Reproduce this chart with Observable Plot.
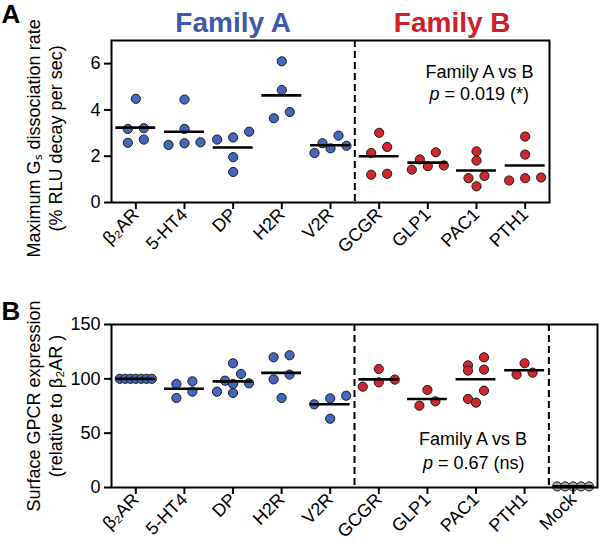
<!DOCTYPE html>
<html>
<head>
<meta charset="utf-8">
<script src="https://cdn.jsdelivr.net/npm/d3@7"></script>
<script src="https://cdn.jsdelivr.net/npm/@observablehq/plot@0.6"></script>
<style>
  body { margin: 0; background: #fff; }
  svg { display: block; }
</style>
</head>
<body>
<div id="chart"></div>
<script>
// ---------------- data ----------------
const receptorsA = ["β₂AR", "5-HT4", "DP", "H2R", "V2R", "GCGR", "GLP1", "PAC1", "PTH1"];
const receptorsB = ["β₂AR", "5-HT4", "DP", "H2R", "V2R", "GCGR", "GLP1", "PAC1", "PTH1", "Mock"];
const familyNames = ["Family A", "Family B"];
const familyA = ["β₂AR", "5-HT4", "DP", "H2R", "V2R"];
const familyB = ["GCGR", "GLP1", "PAC1", "PTH1"];

// Panel A: maximum Gs dissociation rate (% RLU decay per sec)
const rateValues = [
  [4.48, 3.21, 3.18, 2.72, 2.58],   // β2AR
  [4.45, 3.18, 2.60, 2.56, 2.49],   // 5-HT4
  [3.06, 2.81, 2.72, 1.96, 1.32],   // DP
  [6.10, 4.86, 3.91, 3.64],         // H2R
  [2.89, 2.56, 2.45, 2.34, 2.14],   // V2R
  [3.01, 2.40, 2.14, 1.24, 1.20],   // GCGR
  [2.17, 1.86, 1.60, 1.57, 1.42],   // GLP1
  [2.21, 1.81, 1.15, 1.05, 0.70],   // PAC1
  [2.85, 2.07, 1.08, 1.05, 0.95]    // PTH1
];
// Panel B: surface GPCR expression (relative to β2AR)
const exprValues = [
  [100, 100, 100, 100, 100, 100, 100],              // β2AR
  [97.7, 95.3, 88.2, 82.4],                         // 5-HT4
  [114.3, 104.5, 98.3, 95.9, 95.3, 88.2, 87.0],     // DP
  [121.7, 119.8, 103.9, 99.5, 82.4],                // H2R
  [84.5, 82.0, 76.5, 63.3],                         // V2R
  [109.1, 99.3, 96.8, 92.8],                        // GCGR
  [89.8, 79.3, 75.3],                               // GLP1
  [119.8, 112.4, 108.5, 107.6, 89.1, 81.5, 78.1],   // PAC1
  [114.3, 105.7, 103.9],                            // PTH1
  [1, 1, 1, 1, 1]                                   // Mock
];
const rateTicks = [0, 2, 4, 6];
const exprTicks = [0, 50, 100, 150];
const statsA = ["Family A vs B", "p", "= 0.019 (*)"];
const statsB = ["Family A vs B", "p", "= 0.67 (ns)"];
const titleA = "Maximum Gₛ dissociation rate\n(% RLU decay per sec)";
const titleB = "Surface GPCR expression\n(relative to β₂AR )";

// ---------------- styling ----------------
const FONT = "'Liberation Sans', Arial, Helvetica, sans-serif";
const BLUE = "#4467be", RED = "#d0262c", GRAY = "#a3a3a3";
const BLUE_T = "#3b59a8", RED_T = "#cc2129";
const colorOf = (name) => familyA.includes(name) ? BLUE : familyB.includes(name) ? RED : GRAY;

// simple row-binned scatter layout (GraphPad style)
function swarm(names, groups, pxPerUnit, stepPx) {
  const out = [];
  groups.forEach((vals, i) => {
    const sorted = vals.map(v => ({v})).sort((a, b) => b.v - a.v);
    const rows = [];
    for (const p of sorted) {
      const row = rows[rows.length - 1];
      if (row && (row[0].v - p.v) * pxPerUnit < 9) row.push(p); else rows.push([p]);
    }
    for (const row of rows) {
      row.sort((a, b) => a.v - b.v);
      const n = row.length;
      const sp = n > 1 ? Math.min(16, 32 / (n - 1)) : 0;
      row.forEach((p, k) => out.push({i, name: names[i], v: p.v, x: i + (k - (n - 1) / 2) * sp / stepPx}));
    }
  });
  return out;
}
const meansOf = (names, groups) => groups.map((vals, i) => ({i, name: names[i], m: d3.mean(vals)}));

function panel({names, groups, yDomain, ticks, height, marginTop, marginBottom, marginRight, dashes, stats, statsY, statsDx, title, titleY, letter, letterDy, families}) {
  const width = 600, marginLeft = 111;
  const stepPx = (width - marginLeft - marginRight) / names.length;
  const pxPerUnit = (height - marginTop - marginBottom) / (yDomain[1] - yDomain[0]);
  const dots = swarm(names, groups, pxPerUnit, stepPx);
  const means = meansOf(names, groups);
  const marks = [
    Plot.ruleX(dashes, {stroke: "black", strokeWidth: 2, strokeDasharray: "7,4"}),
    Plot.dot(dots, {x: "x", y: "v", r: 4.6, fill: d => colorOf(d.name), stroke: "#1c1c1c", strokeWidth: 1}),
    Plot.ruleY(means, {y: "m", x1: d => d.i - 0.41, x2: d => d.i + 0.41, stroke: "black", strokeWidth: 2.6}),
    Plot.frame({stroke: "black", strokeWidth: 2}),
    Plot.axisY({ticks, tickFormat: d => String(d), tickSize: 7, tickPadding: 4, strokeWidth: 2, fontSize: 18, label: null}),
    Plot.axisX({ticks: d3.range(names.length), tickFormat: i => names[i], tickRotate: -45, tickSize: 7, tickPadding: 2, strokeWidth: 2, fontSize: 18, label: null}),
    // stats annotation
    Plot.text([stats[0]], {x: () => 7, y: () => statsY[0], dx: statsDx, text: d => d, fontSize: 18, lineAnchor: "bottom", textAnchor: "middle"}),
    Plot.text([stats[1]], {x: () => 7, y: () => statsY[1], dx: statsDx - 40, text: d => d, fontSize: 18, fontStyle: "italic", lineAnchor: "bottom", textAnchor: "end"}),
    Plot.text([stats[2]], {x: () => 7, y: () => statsY[1], dx: statsDx - 35, text: d => d, fontSize: 18, lineAnchor: "bottom", textAnchor: "start"}),
    // y title
    Plot.text([title], {frameAnchor: "left", y: titleY == null ? undefined : () => titleY, dx: -68, rotate: -90, text: d => d, fontSize: 18, lineHeight: 1.22, lineAnchor: "middle", textAnchor: "middle"}),
    // panel letter
    Plot.text([letter], {frameAnchor: "top-left", dx: -110, dy: letterDy, text: d => d, fontSize: 26, fontWeight: "bold", textAnchor: "start", lineAnchor: "bottom"})
  ];
  if (families) {
    const groupsF = [familyA, familyB];
    marks.push(Plot.text(familyNames, {
      x: (d, k) => d3.mean(groupsF[k], n => names.indexOf(n)),
      frameAnchor: "top", dy: -9, text: d => d, fontSize: 28, fontWeight: "bold",
      fill: (d, k) => k === 0 ? BLUE_T : RED_T, lineAnchor: "bottom"
    }));
  }
  return Plot.plot({
    width, height, marginTop, marginBottom, marginLeft, marginRight,
    style: {fontFamily: FONT, fontSize: "18px", color: "black", background: "white", overflow: "visible"},
    x: {domain: [-0.5, names.length - 0.5]},
    y: {domain: yDomain},
    marks
  });
}

const chart = document.getElementById("chart");
chart.append(panel({
  names: receptorsA, groups: rateValues, yDomain: [0, 7], ticks: rateTicks,
  height: 275, marginTop: 40, marginBottom: 73, marginRight: 51,
  dashes: [4.5], stats: statsA, statsY: [5.40, 4.41], statsDx: 3,
  title: titleA, titleY: 2.77, letter: "A", letterDy: -18, families: true
}));
chart.append(panel({
  names: receptorsB, groups: exprValues, yDomain: [0, 150], ticks: exprTicks,
  height: 268, marginTop: 49, marginBottom: 56, marginRight: 3,
  dashes: [4.5, 8.5], stats: statsB, statsY: [39.4, 17.2], statsDx: -3,
  title: titleB, titleY: null, letter: "B", letterDy: -5, families: false
}));
</script>
</body>
</html>
